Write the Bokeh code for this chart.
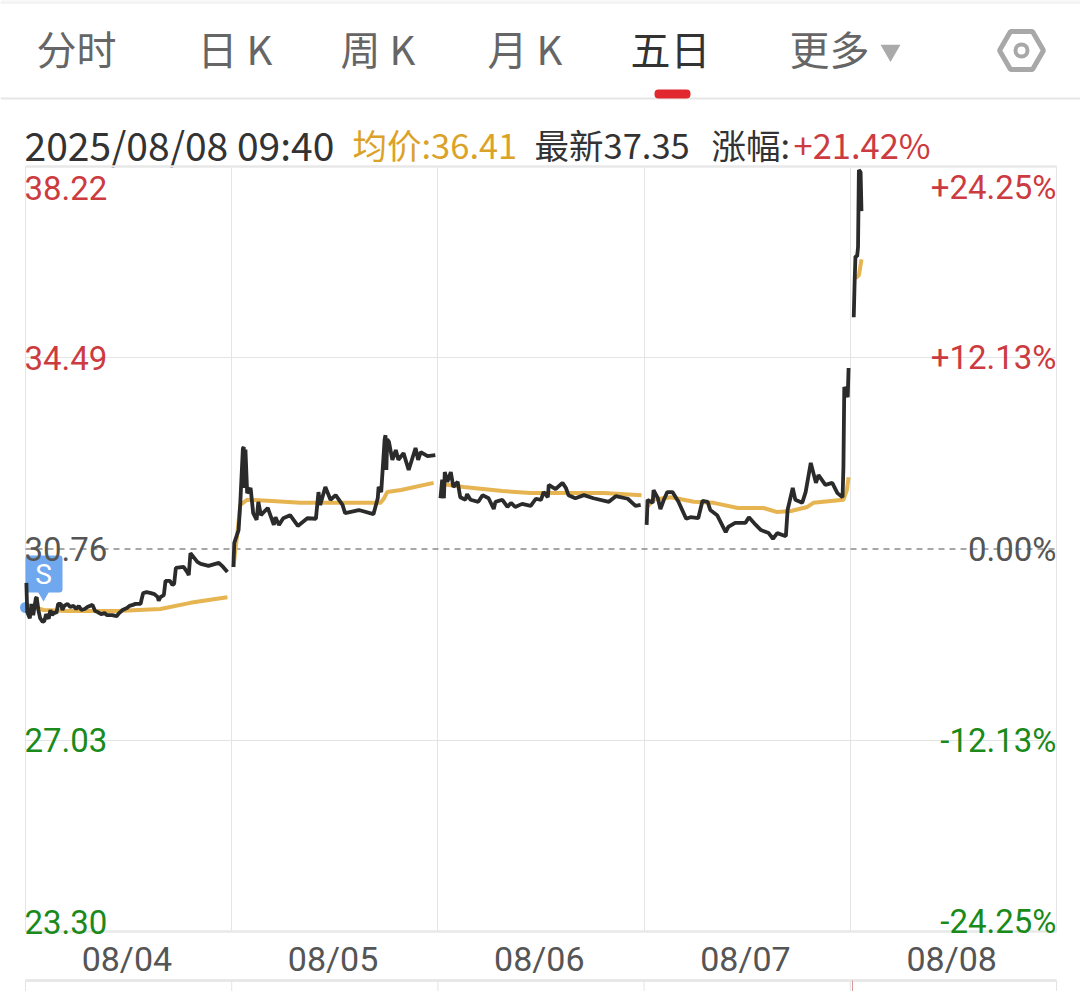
from bokeh.plotting import figure
from bokeh.models import Range1d, FixedTicker, ColumnDataSource, LinearAxis, Grid
from bokeh.core.properties import value
from bokeh.embed import file_html
from bokeh.resources import INLINE

CJK = "Noto Sans CJK SC, Roboto"

tabs = ["分时", "日 K", "周 K", "月 K", "五日", "更多"]
date_text = "2025/08/08 09:40"
avg_text = "均价:36.41"
last_text = "最新37.35"
chg_label = "涨幅:"
chg_text = "+21.42%"

day_labels = ["08/04", "08/05", "08/06", "08/07", "08/08"]
day_mid = [118, 358, 598, 838, 1078]
day_edges = [0, 240, 480, 720, 960, 1200]
price_ticks = [38.22, 34.49, 30.76, 27.03, 23.30]
price_labels = ["38.22", "34.49", "30.76", "27.03", "23.30"]
pct_labels = ["+24.25%", "+12.13%", "0.00%", "-12.13%", "-24.25%"]
tick_colors = ["#cc3b40", "#cc3b40", "#555555", "#1a8a1a", "#1a8a1a"]
prev_close = 30.76

d1_t = [1,2,5,7,9,12,13,15,17,20,22,24,27,29,31,34,36,38,41,43,45,49,52,56,59,62,65,69,72,78,81,84,88,92,95,101,106,109,113,118,121,125,128,134,135,137,141,146,150,154,155,157,161,163,168,171,173,175,184,189,190,192,200,204,213,225,230,235]
d1_p = [30.10,29.53,29.41,29.69,29.47,29.80,29.82,29.57,29.41,29.34,29.36,29.49,29.40,29.57,29.47,29.53,29.51,29.69,29.69,29.57,29.65,29.69,29.63,29.65,29.59,29.65,29.57,29.59,29.63,29.67,29.55,29.53,29.49,29.51,29.47,29.47,29.45,29.51,29.57,29.61,29.65,29.67,29.69,29.69,29.77,29.90,29.92,29.90,29.88,29.82,29.75,29.82,29.86,30.14,30.14,30.06,30.08,30.39,30.41,30.29,30.25,30.68,30.51,30.47,30.43,30.49,30.41,30.31]
d2_t = [242,243,248,250,253,254,255,256,258,262,265,269,271,274,282,289,291,295,300,308,317,328,338,341,343,349,355,361,369,372,388,405,410,411,414,418,419,420,421,423,427,431,434,440,446,454,457,460,468,477]
d2_p = [30.41,30.88,31.13,31.66,32.72,32.75,31.95,32.70,31.85,31.95,31.46,31.33,31.68,31.42,31.56,31.23,31.38,31.23,31.36,31.42,31.21,31.36,31.35,31.87,31.62,31.97,31.72,31.81,31.62,31.46,31.52,31.44,31.75,31.97,31.87,32.90,32.98,32.30,32.90,32.85,32.50,32.69,32.50,32.63,32.30,32.73,32.50,32.65,32.57,32.59]
d3_t = [483,485,487,488,491,495,498,503,506,512,514,518,527,532,539,545,547,555,561,565,570,578,588,594,600,603,608,609,617,625,629,632,640,650,661,679,687,701,710,716]
d3_p = [31.75,32.11,31.75,32.26,32.07,32.26,31.97,32.07,31.77,31.72,31.83,31.72,31.68,31.81,31.75,31.54,31.68,31.72,31.58,31.66,31.58,31.64,31.60,31.74,31.72,31.87,31.77,32.01,31.93,32.05,31.95,31.81,31.75,31.81,31.75,31.68,31.79,31.74,31.60,31.62]
d4_t = [723,724,730,731,736,739,743,747,753,760,769,774,783,788,794,797,805,815,818,826,838,842,850,856,865,870,875,885,887,893,896,904,908,914,920,923,931,939,945,951,952,953,957,958]
d4_p = [31.23,31.72,31.66,31.91,31.75,31.54,31.72,31.87,31.87,31.68,31.35,31.38,31.36,31.70,31.68,31.52,31.42,31.09,31.19,31.27,31.27,31.38,31.23,31.13,31.07,30.96,31.07,31.01,31.52,31.95,31.72,31.66,31.87,32.44,32.05,32.20,32.01,32.05,31.85,31.77,32.36,33.92,33.72,34.29]
d5_t = [964,965,966,968,969,970,972,973]
d5_p = [35.28,35.95,36.47,36.47,36.65,38.15,38.11,37.35]

a1_t = [1,9,21,49,107,157,192,215,235]
a1_p = [29.63,29.63,29.57,29.55,29.55,29.59,29.71,29.77,29.82]
a2_t = [242,247,250,258,282,320,413,417,421,437,475]
a2_p = [30.41,31.13,31.62,31.72,31.70,31.66,31.66,31.74,31.87,31.91,32.05]
a3_t = [483,510,555,588,673,717]
a3_p = [32.03,31.97,31.89,31.85,31.85,31.81]
a4_t = [724,730,751,778,801,829,859,875,891,910,917,952,956,958]
a4_p = [31.58,31.72,31.77,31.68,31.66,31.56,31.56,31.48,31.50,31.58,31.66,31.72,31.91,32.16]
a5_t = [966,970,973]
a5_p = [36.04,36.10,36.41]

BLACK = "#2b2b2b"
GOLD = "#e6b451"
GRID = "#e4e4e4"

W, H = 1080, 991
LEFT, RIGHT, TOP, BOTTOM = 25, 1056, 166, 931
sx = (day_edges[-1] - day_edges[0]) / (RIGHT - LEFT)
sy = (price_ticks[0] - price_ticks[-1]) / (BOTTOM - TOP)
X = lambda px: (px - LEFT) * sx
Y = lambda py: price_ticks[-1] + (BOTTOM - py) * sy
XS = lambda a: [X(v) for v in a]
YS = lambda a: [Y(v) for v in a]

p = figure(width=W, height=H, x_range=Range1d(X(0), X(W)), y_range=Range1d(Y(H), Y(0)),
           toolbar_location=None, output_backend="svg", min_border=0,
           y_axis_type=None, x_axis_type=None, outline_line_color=None)
p.grid.visible = False

# page chrome
tab_x = [36, 197, 340, 487, 630, 789]
tab_col = ["#666666"] * 4 + ["#333333", "#666666"]
p.text(x=XS(tab_x), y=YS([47] * 6), text=tabs, text_color=tab_col, text_font_size="40px",
       text_font=value(CJK), text_baseline="middle", text_align="left")
p.scatter(x=XS([890]), y=YS([50]), marker="inverted_triangle", size=20, fill_color="#aaaaaa", line_color=None)
p.scatter(x=XS([1021]), y=YS([50]), marker="hex", size=44, fill_color=None, line_color="#a8a8a8", line_width=5)
p.scatter(x=XS([1021]), y=YS([50]), marker="circle", size=12, fill_color=None, line_color="#a8a8a8", line_width=4)
p.segment(x0=XS([0]), x1=XS([W]), y0=YS([98]), y1=YS([98]), line_color="#e6e6e6", line_width=2)
p.segment(x0=XS([0]), x1=XS([W]), y0=YS([1.5]), y1=YS([1.5]), line_color="#f4f4f4", line_width=4)
p.quad(left=XS([654]), right=XS([690]), top=YS([89]), bottom=YS([98]), fill_color="#e0282e", line_color=None, border_radius=4)
p.text(x=XS([24]), y=YS([143]), text=[date_text], text_color="#333333", text_font_size="39px",
       text_font=value(CJK), text_baseline="middle", text_align="left")
p.text(x=XS([352, 534, 711, 793]), y=YS([143] * 4),
       text=[avg_text, last_text, chg_label, chg_text],
       text_color=["#dba228", "#333333", "#333333", "#cc3b40"],
       text_font_size="34.5px", text_font=value(CJK), text_baseline="middle", text_align="left")

# axis and grid
ax = LinearAxis(ticker=FixedTicker(ticks=day_mid), fixed_location=price_ticks[-1],
                major_label_overrides={t: s for t, s in zip(day_mid, day_labels)})
ax.axis_line_color = None
ax.major_tick_line_color = None
ax.minor_tick_line_color = None
ax.major_label_text_font = "Roboto"
ax.major_label_text_font_size = "34px"
ax.major_label_text_color = "#555555"
ax.major_label_standoff = 1
p.add_layout(ax, "below")
p.add_layout(Grid(dimension=0, axis=ax, ticker=FixedTicker(ticks=day_edges), grid_line_color=GRID, grid_line_width=1,
                  cross_bounds=(price_ticks[-1], price_ticks[0])))
p.add_layout(Grid(dimension=1, axis=ax, ticker=FixedTicker(ticks=[price_ticks[1], price_ticks[3]]), grid_line_color=GRID,
                  grid_line_width=1, cross_bounds=(day_edges[0], day_edges[-1])))
p.segment(x0=[day_edges[0]] * 2, x1=[day_edges[-1]] * 2, y0=[price_ticks[0], price_ticks[-1]], y1=[price_ticks[0], price_ticks[-1]],
          line_color="#e8e8e8", line_width=2.5)
p.segment(x0=[day_edges[0]], x1=[day_edges[-1]], y0=[prev_close], y1=[prev_close], line_color="#8a8a8a", line_width=1.5, line_dash="6 5")

# next panel's edge
p.segment(x0=XS([LEFT]), x1=XS([RIGHT]), y0=YS([980]), y1=YS([980]), line_color="#e8e8e8", line_width=3)
p.segment(x0=day_edges, x1=day_edges, y0=YS([980] * 6), y1=YS([991] * 6), line_color=GRID, line_width=1)
p.segment(x0=XS([852]), x1=XS([852]), y0=YS([980]), y1=YS([991]), line_color="#d89a9a", line_width=1)

# buy flag
p.scatter(x=XS([25]), y=YS([607]), marker="circle", size=11, fill_color="#6fa8ee", line_color=None)
p.quad(left=XS([25]), right=XS([62]), top=YS([555]), bottom=YS([592]), fill_color="#6fa8ee", line_color=None, border_radius=3)
p.scatter(x=XS([43]), y=YS([594]), marker="inverted_triangle", size=12, fill_color="#6fa8ee", line_color=None)
p.text(x=XS([43]), y=YS([574]), text=["S"], text_color="#ffffff", text_font_size="28px", text_font=value("Roboto"),
       text_align="center", text_baseline="middle")

for t, v in [(a1_t, a1_p), (a2_t, a2_p), (a3_t, a3_p), (a4_t, a4_p), (a5_t, a5_p)]:
    p.line(t, v, line_color=GOLD, line_width=4)
for t, v in [(d1_t, d1_p), (d2_t, d2_p), (d3_t, d3_p), (d4_t, d4_p), (d5_t, d5_p)]:
    p.line(t, v, line_color=BLACK, line_width=3.8)

offs = [21, 0, 0, 0, -10]
src = ColumnDataSource(dict(x0=[day_edges[0]] * 5, x1=[day_edges[-1]] * 5, y=price_ticks, l=price_labels, r=pct_labels,
                            c=tick_colors, o=offs))
p.text(x="x0", y="y", text="l", text_color="c", text_baseline="middle", y_offset="o", text_align="left",
       x_offset=-1, text_font_size="33px", text_font=value("Roboto"), source=src)
p.text(x="x1", y="y", text="r", text_color="c", text_baseline="middle", y_offset="o", text_align="right",
       text_font_size="33px", text_font=value("Roboto"), source=src)

open("out.html", "w").write(file_html(p, INLINE))
